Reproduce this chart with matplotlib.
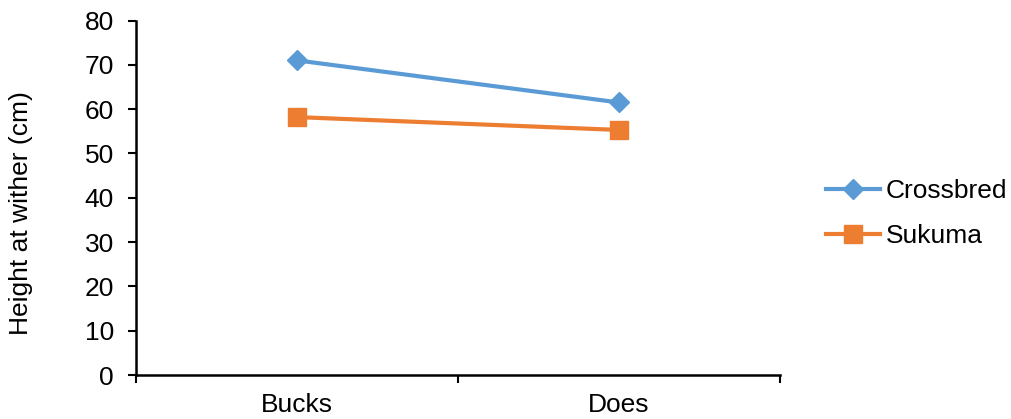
import matplotlib
matplotlib.use("Agg")
import matplotlib.pyplot as plt

categories = ["Bucks", "Does"]
crossbred = [71.0, 61.5]
sukuma = [58.2, 55.3]
y_ticks = [0, 10, 20, 30, 40, 50, 60, 70, 80]

plt.rcParams["font.family"] = ["Liberation Sans", "DejaVu Sans"]
fs = 19

fig = plt.figure(figsize=(10.11, 4.19), dpi=100)
ax = fig.add_axes([136 / 1011, 44 / 419, 644 / 1011, 354.5 / 419])

x = [i + 0.5 for i in range(len(categories))]
ax.plot(x, crossbred, color="#5B9BD5", lw=3, marker="D", ms=10.5,
        label="Crossbred", clip_on=False)
ax.plot(x, sukuma, color="#ED7D31", lw=3, marker="s", ms=13,
        label="Sukuma", clip_on=False)

ax.set_xlim(0, len(categories))
ax.set_ylim(0, 80)
ax.set_yticks(y_ticks)
ax.set_xticks(range(len(categories) + 1))
ax.set_xticklabels([])
ax.set_xticks(x, minor=True)
ax.set_xticklabels(categories, minor=True)
ax.tick_params(axis="x", which="minor", length=0, pad=13, labelsize=fs)
ax.tick_params(axis="x", which="major", length=6, width=1.5, direction="out")
ax.tick_params(axis="y", length=6, width=1.5, direction="out", labelsize=fs, pad=10)

for side in ["top", "right"]:
    ax.spines[side].set_visible(False)
for side in ["left", "bottom"]:
    ax.spines[side].set_linewidth(1.8)

ax.set_ylabel("Height at wither (cm)", fontsize=fs)
ax.yaxis.set_label_coords(-0.16, 0.458)

ax.legend(loc="center left", bbox_to_anchor=(1.055, 0.456), frameon=False,
          fontsize=fs, handlelength=2.05, handletextpad=0.2, labelspacing=0.8,
          borderaxespad=0)

fig.savefig("out.png", dpi=100)
